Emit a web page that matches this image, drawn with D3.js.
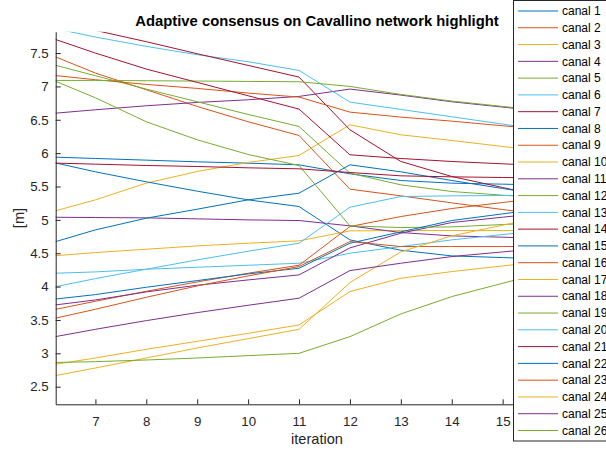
<!DOCTYPE html>
<html>
<head>
<meta charset="utf-8">
<script src="https://cdn.jsdelivr.net/npm/d3@7"></script>
<style>
  body { margin: 0; background: #fff; }
  svg { font-family: "Liberation Sans", Arial, Helvetica, sans-serif; }
</style>
</head>
<body>
<div id="chart"></div>
<script>
    var width = 606;
    var height = 450;

    // iterations 6 and 16 sit outside the visible window (clipped / under legend)
    var iterations = [6, 7, 8, 9, 10, 11, 12, 13, 14, 15, 16];

    // one array per canal
    var canal1  = [5.945, 5.92, 5.895, 5.87, 5.85, 5.825, 5.69, 5.59, 5.55, 5.535, 5.52];
    var canal2  = [7.51, 7.20, 6.95, 6.70, 6.47, 6.265, 5.46, 5.36, 5.255, 5.155, 5.06];
    var canal3  = [5.09, 5.30, 5.55, 5.725, 5.86, 5.965, 6.425, 6.275, 6.19, 6.10, 6.01];
    var canal4  = [6.585, 6.65, 6.71, 6.76, 6.80, 6.85, 6.96, 6.87, 6.77, 6.69, 6.61];
    var canal5  = [7.36, 7.16, 6.96, 6.77, 6.58, 6.40, 5.70, 5.525, 5.425, 5.37, 5.32];
    var canal6  = [7.90, 7.74, 7.60, 7.475, 7.37, 7.24, 6.765, 6.655, 6.545, 6.435, 6.325];
    var canal7  = [8.00, 7.84, 7.67, 7.49, 7.315, 7.14, 6.35, 5.875, 5.65, 5.485, 5.32];
    var canal8  = [5.89, 5.72, 5.57, 5.43, 5.30, 5.20, 4.70, 4.545, 4.46, 4.435, 4.41];
    var canal9  = [7.18, 7.10, 7.03, 6.97, 6.90, 6.84, 6.615, 6.54, 6.48, 6.41, 6.35];
    var canal10 = [4.45, 4.51, 4.56, 4.61, 4.65, 4.685, 4.835, 4.84, 4.84, 4.84, 4.84];
    var canal11 = [5.04, 5.035, 5.03, 5.015, 5.0, 4.99, 4.91, 4.81, 4.76, 4.74, 4.72];
    var canal12 = [7.09, 7.09, 7.085, 7.08, 7.075, 7.07, 7.0, 6.88, 6.78, 6.70, 6.62];
    var canal13 = [4.195, 4.22, 4.26, 4.29, 4.32, 4.35, 4.50, 4.60, 4.70, 4.78, 4.86];
    var canal14 = [7.76, 7.50, 7.26, 7.06, 6.86, 6.66, 5.975, 5.92, 5.875, 5.84, 5.805];
    var canal15 = [4.625, 4.85, 5.025, 5.16, 5.30, 5.40, 5.825, 5.72, 5.59, 5.47, 5.35];
    var canal16 = [3.625, 3.78, 3.93, 4.07, 4.20, 4.32, 4.90, 5.05, 5.17, 5.26, 5.35];
    var canal17 = [2.81, 2.93, 3.06, 3.18, 3.30, 3.425, 3.925, 4.125, 4.225, 4.31, 4.39];
    var canal18 = [3.705, 3.80, 3.92, 4.02, 4.10, 4.175, 4.58, 4.80, 4.96, 5.04, 5.12];
    var canal19 = [7.145, 6.83, 6.47, 6.20, 5.98, 5.815, 4.91, 4.885, 4.895, 4.93, 4.96];
    var canal20 = [3.965, 4.12, 4.26, 4.40, 4.53, 4.65, 5.19, 5.35, 5.36, 5.365, 5.37];
    var canal21 = [5.855, 5.835, 5.815, 5.80, 5.78, 5.765, 5.71, 5.66, 5.645, 5.635, 5.625];
    var canal22 = [3.795, 3.88, 3.99, 4.09, 4.19, 4.275, 4.65, 4.82, 4.99, 5.09, 5.19];
    var canal23 = [3.49, 3.66, 3.84, 4.01, 4.16, 4.30, 4.675, 4.60, 4.60, 4.60, 4.60];
    var canal24 = [2.635, 2.78, 2.93, 3.08, 3.22, 3.36, 4.06, 4.52, 4.76, 4.92, 5.08];
    var canal25 = [3.22, 3.36, 3.49, 3.61, 3.72, 3.826, 4.24, 4.35, 4.45, 4.52, 4.59];
    var canal26 = [2.86, 2.875, 2.90, 2.93, 2.965, 3.0, 3.25, 3.59, 3.85, 4.05, 4.25];

    var series = [canal1, canal2, canal3, canal4, canal5, canal6, canal7, canal8, canal9,
                  canal10, canal11, canal12, canal13, canal14, canal15, canal16, canal17,
                  canal18, canal19, canal20, canal21, canal22, canal23, canal24, canal25, canal26];
    var names = series.map(function(d, i) { return "canal " + (i + 1); });

    var xTicks = [7, 8, 9, 10, 11, 12, 13, 14, 15, 16];
    var yTicks = [2.5, 3, 3.5, 4, 4.5, 5, 5.5, 6, 6.5, 7, 7.5];

    // matlab default line colours
    var colors = ["#0072BD", "#D95319", "#EDB120", "#7E2F8E", "#77AC30", "#4DBEEE", "#A2142F"];

    // plot box (note: "top" is taken by window.top, so prefixed names)
    var plotLeft = 55.7, plotRight = 578.5, plotTop = 31.7, plotBottom = 404.3;

    var x = d3.scaleLinear().domain([6.22, 16.49]).range([plotLeft, plotRight]);
    var y = d3.scaleLinear().domain([2.236, 7.82]).range([plotBottom, plotTop]);

    var svg = d3.select("#chart")
                .append("svg")
                .attr("width", width)
                .attr("height", height);

    svg.append("clipPath").attr("id", "plotclip")
       .append("rect")
       .attr("x", plotLeft).attr("y", plotTop)
       .attr("width", plotRight - plotLeft).attr("height", plotBottom - plotTop);

    var line = d3.line()
                 .x(function(d, i) { return x(iterations[i]); })
                 .y(function(d) { return y(d); });

    svg.append("g")
       .attr("clip-path", "url(#plotclip)")
       .selectAll("path")
       .data(series)
       .enter()
       .append("path")
       .attr("d", line)
       .attr("fill", "none")
       .attr("stroke", function(d, i) { return colors[i % 7]; })
       .attr("stroke-width", 1);

    // axes, ticks pointing inward like matlab
    var xAxis = svg.append("g")
       .attr("transform", "translate(0," + plotBottom + ")")
       .call(d3.axisBottom(x).tickValues(xTicks).tickSizeInner(-5).tickSizeOuter(0).tickPadding(12));
    var yAxis = svg.append("g")
       .attr("transform", "translate(" + plotLeft + ",0)")
       .call(d3.axisLeft(y).tickValues(yTicks).tickFormat(function(d) { return String(d); })
             .tickSizeInner(-5).tickSizeOuter(0).tickPadding(7));

    [xAxis, yAxis].forEach(function(a) {
        a.selectAll("path, line").attr("stroke", "#262626").attr("stroke-width", 1);
        a.selectAll("text").attr("fill", "#262626").style("font-size", "13.3px")
         .style("font-family", "'Liberation Sans', Arial, sans-serif");
    });

    svg.append("text")
       .attr("x", 317).attr("y", 26)
       .attr("text-anchor", "middle")
       .style("font-size", "14.8px").style("font-weight", "bold")
       .attr("fill", "#000")
       .text("Adaptive consensus on Cavallino network highlight");

    svg.append("text")
       .attr("x", 317).attr("y", 444)
       .attr("text-anchor", "middle")
       .style("font-size", "14.6px")
       .attr("fill", "#262626")
       .text("iteration");

    svg.append("text")
       .attr("transform", "translate(24,218) rotate(-90)")
       .attr("text-anchor", "middle")
       .style("font-size", "14.6px")
       .attr("fill", "#262626")
       .text("[m]");

    // legend box runs off the right edge
    var legend = svg.append("g");
    legend.append("rect")
          .attr("x", 513.5).attr("y", 0.5)
          .attr("width", 200).attr("height", 440.5)
          .attr("fill", "#fff")
          .attr("stroke", "#262626")
          .attr("stroke-width", 1);

    var rowH = 16.78;
    var rows = legend.selectAll("g.row")
          .data(names)
          .enter()
          .append("g")
          .attr("class", "row")
          .attr("transform", function(d, i) { return "translate(0," + (11 + i * rowH) + ")"; });
    rows.append("line")
        .attr("x1", 518).attr("x2", 558)
        .attr("y1", 0).attr("y2", 0)
        .attr("stroke", function(d, i) { return colors[i % 7]; })
        .attr("stroke-width", 1);
    rows.append("text")
        .attr("x", 562).attr("y", 0)
        .attr("dy", "0.35em")
        .style("font-size", "12px")
        .attr("fill", "#000")
        .text(function(d) { return d; });
</script>
</body>
</html>
